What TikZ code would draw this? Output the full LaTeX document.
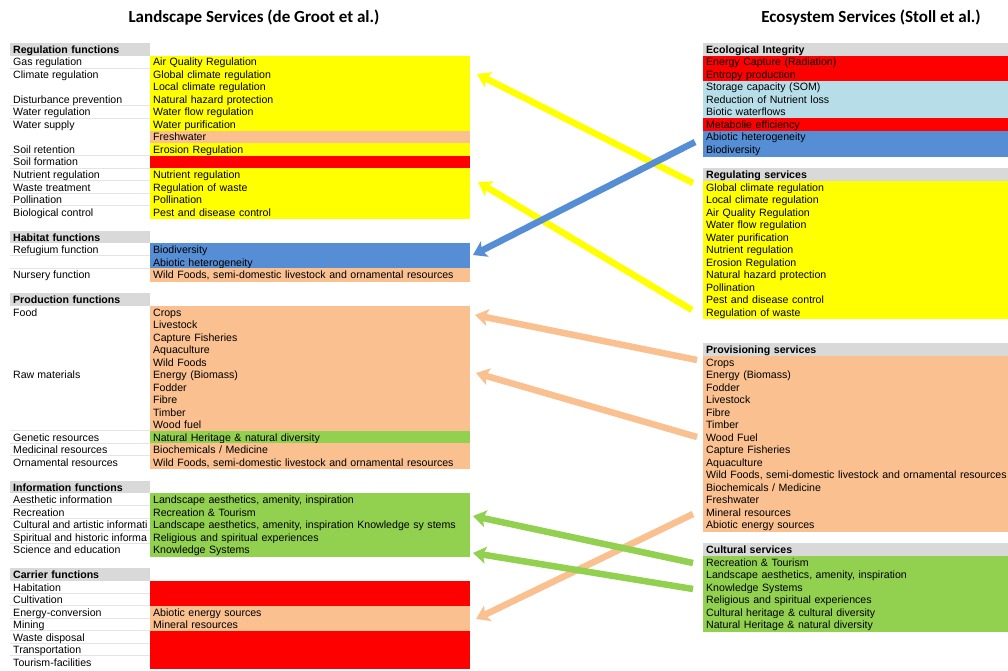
\documentclass[tikz,border=0pt]{standalone}
\usepackage{fontspec}
\setmainfont{Liberation Sans}
\newfontfamily\headfont{Carlito}
\usetikzlibrary{arrows.meta}
\definecolor{cY}{HTML}{FFFF00}
\definecolor{cR}{HTML}{FF0000}
\definecolor{cO}{HTML}{FAC090}
\definecolor{cB}{HTML}{558ED5}
\definecolor{cLB}{HTML}{B7DEE8}
\definecolor{cG}{HTML}{92D050}
\definecolor{cH}{HTML}{D9D9D9}
\definecolor{cSep}{HTML}{E4E4E4}
\newcommand\tabfont{\fontsize{10.6}{12}\selectfont}
\tikzset{
  title/.style={font=\headfont\bfseries\fontsize{17}{20}\selectfont, inner sep=0pt},
  lab/.style={anchor=base west, inner sep=0pt, font=\tabfont},
  cellbase/.style={anchor=west, inner xsep=3pt, inner ysep=0pt, minimum height=12.5pt,
    text height=10pt, text depth=2pt, align=left, font=\tabfont, line width=0.3pt},
  lhdr/.style={cellbase, fill=cH, text width=134pt, font=\tabfont\bfseries},
  rhdr/.style={cellbase, fill=cH, text width=312pt, font=\tabfont\bfseries},
  lcell/.style={cellbase, fill=#1, draw=#1, text width=313pt},
  rcell/.style={cellbase, fill=#1, draw=#1, text width=312pt},
  sepline/.style={draw=cSep, line width=0.8pt},
  arr/.style={line width=6.5pt, draw=#1, -{Stealth[length=13pt,width=17pt,inset=3pt,fill=#1]}},
}
\begin{document}
\begin{tikzpicture}[x=1pt,y=-1pt]
\useasboundingbox[fill=white] (0,0) rectangle (1008,671);

% titles
\node[title] (t1) at (254,18) {Landscape Services (de Groot et al.)};
\node[title] (t2) at (871,18) {Ecosystem Services (Stoll et al.)};

% ---------- left table ----------
\foreach \r/\t in {0/Regulation functions,15/Habitat functions,20/Production functions,35/Information functions,42/Carrier functions}
  \node[lhdr] (lh\r) at (10,{49.5+12.5*\r}) {\t};

\foreach \r in {2,5,6,9,10,11,12,13,17,18,31,32,33,37,38,39,40,44,45,46,47,48,49}
  \draw[sepline] (10,{43.25+12.5*\r}) coordinate (sa\r) -- (150,{43.25+12.5*\r}) coordinate (sb\r);

\foreach \r/\t in {1/{Gas regulation},2/{Climate regulation},4/{Disturbance prevention},5/{Water regulation},
  6/{Water supply},8/{Soil retention},9/{Soil formation},10/{Nutrient regulation},11/{Waste treatment},
  12/{Pollination},13/{Biological control},16/{Refugium function},18/{Nursery function},21/{Food},
  26/{Raw materials},31/{Genetic resources},32/{Medicinal resources},33/{Ornamental resources},
  36/{Aesthetic information},37/{Recreation},38/{Cultural and artistic informati},
  39/{Spiritual and historic informa},40/{Science and education},43/{Habitation},44/{Cultivation},
  45/{Energy-conversion},46/{Mining},47/{Waste disposal},48/{Transportation},49/{Tourism-facilities}}
  \node[lab] (ll\r) at (13,{49.5+12.5*\r+4}) {\t};

\foreach \r/\c/\t in {1/cY/{Air Quality Regulation},2/cY/{Global climate regulation},3/cY/{Local climate regulation},
  4/cY/{Natural hazard protection},5/cY/{Water flow regulation},6/cY/{Water purification},7/cO/{Freshwater},
  8/cY/{Erosion Regulation},9/cR/{},10/cY/{Nutrient regulation},11/cY/{Regulation of waste},12/cY/{Pollination},
  13/cY/{Pest and disease control},
  16/cB/{Biodiversity},17/cB/{Abiotic heterogeneity},18/cO/{Wild Foods, semi-domestic livestock and ornamental resources},
  21/cO/{Crops},22/cO/{Livestock},23/cO/{Capture Fisheries},24/cO/{Aquaculture},25/cO/{Wild Foods},
  26/cO/{Energy (Biomass)},27/cO/{Fodder},28/cO/{Fibre},29/cO/{Timber},30/cO/{Wood fuel},
  31/cG/{Natural Heritage \& natural diversity},32/cO/{Biochemicals / Medicine},
  33/cO/{Wild Foods, semi-domestic livestock and ornamental resources},
  36/cG/{Landscape aesthetics, amenity, inspiration},37/cG/{Recreation \& Tourism},
  38/cG/{Landscape aesthetics, amenity, inspiration Knowledge sy stems},
  39/cG/{Religious and spiritual experiences},40/cG/{Knowledge Systems},
  43/cR/{},44/cR/{},45/cO/{Abiotic energy sources},46/cO/{Mineral resources},47/cR/{},48/cR/{},49/cR/{}}
  \node[lcell=\c] (lv\r) at (150,{49.5+12.5*\r}) {\t};

% ---------- right table ----------
\foreach \r/\t in {0/Ecological Integrity,10/Regulating services,24/Provisioning services,40/Cultural services}
  \node[rhdr] (rh\r) at (703,{49.5+12.5*\r}) {\t};

\foreach \r/\c/\t in {1/cR/{Energy Capture (Radiation)},2/cR/{Entropy production},3/cLB/{Storage capacity (SOM)},
  4/cLB/{Reduction of Nutrient loss},5/cLB/{Biotic waterflows},6/cR/{Metabolie efficiency},
  7/cB/{Abiotic heterogeneity},8/cB/{Biodiversity},
  11/cY/{Global climate regulation},12/cY/{Local climate regulation},13/cY/{Air Quality Regulation},
  14/cY/{Water flow regulation},15/cY/{Water purification},16/cY/{Nutrient regulation},
  17/cY/{Erosion Regulation},18/cY/{Natural hazard protection},19/cY/{Pollination},
  20/cY/{Pest and disease control},21/cY/{Regulation of waste},
  25/cO/{Crops},26/cO/{Energy (Biomass)},27/cO/{Fodder},28/cO/{Livestock},29/cO/{Fibre},30/cO/{Timber},
  31/cO/{Wood Fuel},32/cO/{Capture Fisheries},33/cO/{Aquaculture},
  34/cO/{Wild Foods, semi-domestic livestock and ornamental resources},35/cO/{Biochemicals / Medicine},
  36/cO/{Freshwater},37/cO/{Mineral resources},38/cO/{Abiotic energy sources},
  41/cG/{Recreation \& Tourism},42/cG/{Landscape aesthetics, amenity, inspiration},43/cG/{Knowledge Systems},
  44/cG/{Religious and spiritual experiences},45/cG/{Cultural heritage \& cultural diversity},
  46/cG/{Natural Heritage \& natural diversity}}
  \node[rcell=\c] (rv\r) at (703,{49.5+12.5*\r}) {\t};

% ---------- arrows ----------
\coordinate (y1s) at (693,183);  \coordinate (y1e) at (477,74);
\coordinate (y2s) at (692,310);  \coordinate (y2e) at (478,182);
\coordinate (b1s) at (695,142);  \coordinate (b1e) at (473,255);
\coordinate (o1s) at (697,360);  \coordinate (o1e) at (475,315);
\coordinate (o2s) at (697,437);  \coordinate (o2e) at (476,373);
\coordinate (o3s) at (693,514);  \coordinate (o3e) at (476,619);
\coordinate (g1s) at (693,563);  \coordinate (g1e) at (473,516);
\coordinate (g2s) at (693,589);  \coordinate (g2e) at (473,553);

\draw[arr=cY] (y1s) -- (y1e);
\draw[arr=cY] (y2s) -- (y2e);
\draw[arr=cB] (b1s) -- (b1e);
\draw[arr=cO] (o1s) -- (o1e);
\draw[arr=cO] (o2s) -- (o2e);
\draw[arr=cO] (o3s) -- (o3e);
\draw[arr=cG] (g1s) -- (g1e);
\draw[arr=cG] (g2s) -- (g2e);
\end{tikzpicture}
\end{document}
